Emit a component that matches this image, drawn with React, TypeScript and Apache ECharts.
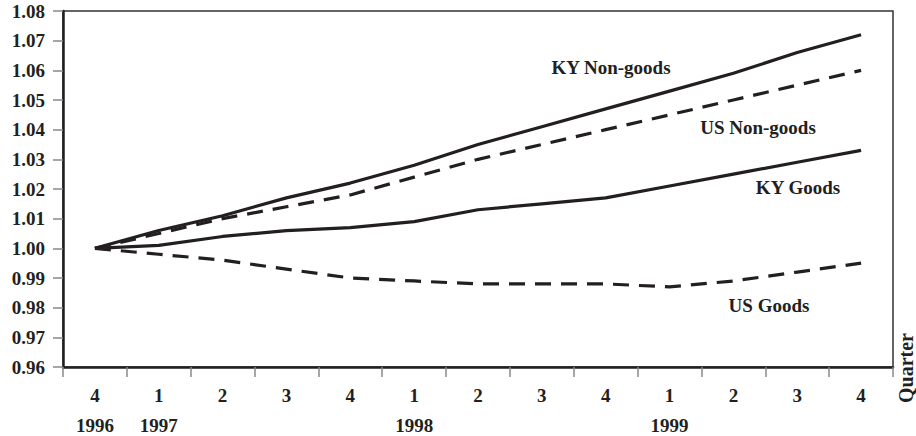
import React, { useEffect, useRef } from "react";
import * as echarts from "echarts";

const quarters = ["4", "1", "2", "3", "4", "1", "2", "3", "4", "1", "2", "3", "4"];
const years = ["1996", "1997", "", "", "", "1998", "", "", "", "1999", "", "", ""];
const kyNonGoods = [1.0, 1.006, 1.011, 1.017, 1.022, 1.028, 1.035, 1.041, 1.047, 1.053, 1.059, 1.066, 1.072];
const usNonGoods = [1.0, 1.005, 1.01, 1.014, 1.018, 1.024, 1.03, 1.035, 1.04, 1.045, 1.05, 1.055, 1.06];
const kyGoods = [1.0, 1.001, 1.004, 1.006, 1.007, 1.009, 1.013, 1.015, 1.017, 1.021, 1.025, 1.029, 1.033];
const usGoods = [1.0, 0.998, 0.996, 0.993, 0.99, 0.989, 0.988, 0.988, 0.988, 0.987, 0.989, 0.992, 0.995];

const FONT = "'Liberation Serif', 'Times New Roman', serif";
const INK = "#231f20";

export default function App() {
  const ref = useRef<HTMLDivElement>(null);
  useEffect(() => {
    if (!ref.current) return;
    const chart = echarts.init(ref.current, undefined, { renderer: "svg" });
    const labelStyle = { fontFamily: FONT, fontWeight: "bold", fontSize: 19, fill: INK };
    const line = (name: string, data: number[], dashed: boolean) => ({
      name,
      type: "line",
      data,
      symbol: "none",
      lineStyle: { color: INK, width: 3.2, type: dashed ? [16, 10] : "solid" },
      z: 3,
    });
    chart.setOption({
      animation: false,
      grid: {
        left: 63,
        right: 23,
        top: 11,
        bottom: 69,
        show: true,
        borderColor: "#333",
        borderWidth: 1.5,
        backgroundColor: "transparent",
      },
      xAxis: [
        {
          type: "category",
          data: quarters,
          boundaryGap: true,
          axisLine: { lineStyle: { color: INK, width: 2.5 } },
          axisTick: { show: true, length: 10, lineStyle: { color: "#888", width: 1.5 } },
          axisLabel: {
            color: INK,
            fontFamily: FONT,
            fontWeight: "bold",
            fontSize: 19,
            margin: 19,
            interval: 0,
          },
          splitLine: { show: false },
        },
        {
          type: "category",
          data: years,
          position: "bottom",
          offset: 31,
          boundaryGap: true,
          axisLine: { show: false },
          axisTick: { show: false },
          axisLabel: {
            color: INK,
            fontFamily: FONT,
            fontWeight: "bold",
            fontSize: 19,
            margin: 18,
            interval: 0,
          },
          splitLine: { show: false },
        },
      ],
      yAxis: {
        type: "value",
        min: 0.96,
        max: 1.08,
        interval: 0.01,
        axisLine: { show: true, lineStyle: { color: INK, width: 2.5 } },
        axisTick: { show: true, length: 10, lineStyle: { color: "#888", width: 1.5 } },
        axisLabel: {
          color: INK,
          fontFamily: FONT,
          fontWeight: "bold",
          fontSize: 19,
          margin: 18,
          formatter: (v: number) => v.toFixed(2),
        },
        splitLine: { show: false },
      },
      series: [
        line("KY Non-goods", kyNonGoods, false),
        line("US Non-goods", usNonGoods, true),
        line("KY Goods", kyGoods, false),
        line("US Goods", usGoods, true),
      ],
      graphic: [
        { type: "text", x: 611, y: 67, style: { ...labelStyle, text: "KY Non-goods", textAlign: "center", textVerticalAlign: "middle" } },
        { type: "text", x: 758, y: 127, style: { ...labelStyle, text: "US Non-goods", textAlign: "center", textVerticalAlign: "middle" } },
        { type: "text", x: 798, y: 187, style: { ...labelStyle, text: "KY Goods", textAlign: "center", textVerticalAlign: "middle" } },
        { type: "text", x: 769, y: 305, style: { ...labelStyle, text: "US Goods", textAlign: "center", textVerticalAlign: "middle" } },
        {
          type: "text",
          x: 906,
          y: 368,
          rotation: Math.PI / 2,
          style: { ...labelStyle, fontSize: 20, text: "Quarter", textAlign: "center", textVerticalAlign: "middle" },
        },
      ],
    });
    return () => chart.dispose();
  }, []);
  return <div ref={ref} style={{ width: 916, height: 436, position: "absolute", left: 0, top: 0 }} />;
}
